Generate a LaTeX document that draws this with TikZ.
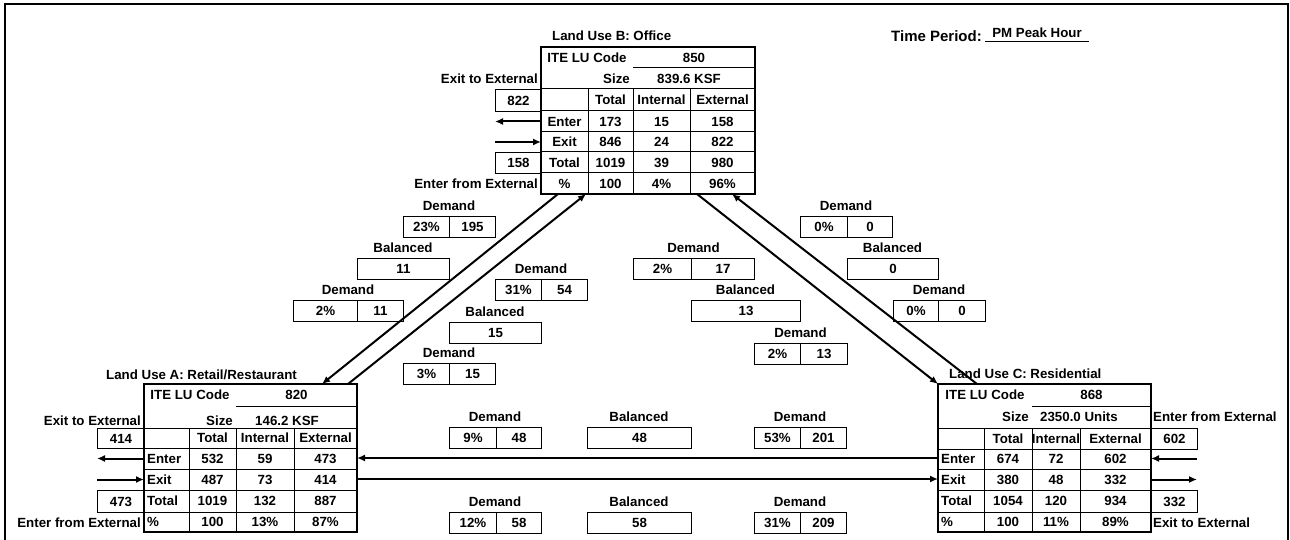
\documentclass[tikz,border=0pt]{standalone}
\usepackage{fontspec}
\setmainfont{Liberation Sans}
\usetikzlibrary{arrows.meta}

\tikzset{
	txt/.style={font=\bfseries\fontsize{13.3}{16}\selectfont,inner sep=0pt,text height=9.5pt,text depth=0pt},
	valcell/.style={txt,draw=black,line width=1pt,minimum height=21pt,anchor=north west},
	tabframe/.style={draw=black,line width=2pt,inner sep=0pt,outer sep=0pt,anchor=north west},
	gridline/.style={black,line width=1pt},
	flow/.style={black,line width=2pt,-{Latex[length=8pt,width=7pt]}},
}

\begin{document}
\begin{tikzpicture}[x=1pt,y=-1pt]
	\useasboundingbox (0,0) rectangle (1290,540);
	\draw[line width=1.5pt] (5,540) -- (5,4) -- (1288,4) -- (1288,540);

	% time period
	\node[txt,font=\bfseries\fontsize{15}{18}\selectfont,text height=10.7pt,anchor=east] (period) at (982,36) {Time Period:};
	\node[txt] (periodval) at (1037,33) {PM Peak Hour};
	\draw[gridline] (985,42) -- (1089,42);

	% land use B
	\node[txt,anchor=west] (B-title) at (552,36) {Land Use B: Office};
	\node[tabframe,minimum width=214pt,minimum height=147pt] (B) at (541,47) {};
	\draw[gridline] (633,68) -- (755,68);
	\foreach \y in {89,111,132,152,173}
		\draw[gridline] (541,\y) -- (755,\y);
	\foreach \x in {588,633,690}
		\draw[gridline] (\x,89) -- (\x,194);
	\node[txt] (B-code) at (587,57.5) {ITE LU Code};
	\node[txt] (B-codeval) at (694,57.5) {850};
	\node[txt,anchor=east] (B-size) at (630,78.5) {Size};
	\node[txt] (B-sizeval) at (689,78.5) {839.6 KSF};
	\foreach \n/\x/\t in {tot/610.5/Total,int/661.5/Internal,ext/722.5/External}
		\node[txt] (B-\n) at (\x,100) {\t};
	\foreach \n/\y/\lab/\va/\vb/\vc in {en/121.5/Enter/173/15/158,ex/142/Exit/846/24/822,tt/162.5/Total/1019/39/980,pc/183.5/\%/100/4\%/96\%}{
		\node[txt] (B-\n-l) at (564.5,\y) {\lab};
		\node[txt] (B-\n-a) at (610.5,\y) {\va};
		\node[txt] (B-\n-b) at (661.5,\y) {\vb};
		\node[txt] (B-\n-c) at (722.5,\y) {\vc};
	}
	\node[txt,anchor=east] (B-xo-t) at (538,79) {Exit to External};
	\node[valcell,minimum width=46pt,minimum height=22pt] (B-xo) at (495,89) {822};
	\node[valcell,minimum width=46pt] (B-xi) at (495,152) {158};
	\node[txt,anchor=east] (B-xi-t) at (538,184) {Enter from External};
	\coordinate (B-out) at (495,121.5);
	\coordinate (B-in) at (495,142);
	\draw[flow] (B.west |- B-out) -- (B-out);
	\draw[flow] (B-in) -- (B.west |- B-in);

	% land use A
	\node[txt,anchor=west] (A-title) at (106,375) {Land Use A: Retail/Restaurant};
	\node[tabframe,minimum width=213pt,minimum height=148pt] (A) at (144,384) {};
	\draw[gridline] (236,406) -- (357,406);
	\foreach \y in {428,448,469,490,512}
		\draw[gridline] (144,\y) -- (357,\y);
	\foreach \x in {189,236,294}
		\draw[gridline] (\x,428) -- (\x,532);
	\node[txt] (A-code) at (190,395) {ITE LU Code};
	\node[txt] (A-codeval) at (296.5,395) {820};
	\node[txt,anchor=east] (A-size) at (233,421) {Size};
	\node[txt] (A-sizeval) at (287,421) {146.2 KSF};
	\foreach \n/\x/\t in {tot/212.5/Total,int/265/Internal,ext/325.5/External}
		\node[txt] (A-\n) at (\x,438) {\t};
	\foreach \n/\y/\lab/\va/\vb/\vc in {en/458.5/Enter/532/59/473,ex/479.5/Exit/487/73/414,tt/501/Total/1019/132/887,pc/522/\%/100/13\%/87\%}{
		\node[txt,anchor=west] (A-\n-l) at (147,\y) {\lab};
		\node[txt] (A-\n-a) at (212.5,\y) {\va};
		\node[txt] (A-\n-b) at (265,\y) {\vb};
		\node[txt] (A-\n-c) at (325.5,\y) {\vc};
	}
	\node[txt,anchor=east] (A-xo-t) at (141,421) {Exit to External};
	\node[valcell,minimum width=47pt,minimum height=20pt] (A-xo) at (97,428) {414};
	\node[valcell,minimum width=47pt,minimum height=22pt] (A-xi) at (97,490) {473};
	\node[txt,anchor=east] (A-xi-t) at (141,523) {Enter from External};
	\coordinate (A-out) at (97,458.5);
	\coordinate (A-in) at (97,479.5);
	\draw[flow] (A.west |- A-out) -- (A-out);
	\draw[flow] (A-in) -- (A.west |- A-in);

	% land use C
	\node[txt,anchor=west] (C-title) at (949,374) {Land Use C: Residential};
	\node[tabframe,minimum width=213pt,minimum height=148pt] (C) at (938,384) {};
	\draw[gridline] (1032,406) -- (1151,406);
	\foreach \y in {428,449,469,490,512}
		\draw[gridline] (938,\y) -- (1151,\y);
	\foreach \x in {984,1032,1080}
		\draw[gridline] (\x,428) -- (\x,532);
	\node[txt] (C-code) at (985,395) {ITE LU Code};
	\node[txt] (C-codeval) at (1091.5,395) {868};
	\node[txt,anchor=east] (C-size) at (1029,417) {Size};
	\node[txt] (C-sizeval) at (1079,417) {2350.0 Units};
	\foreach \n/\x/\t in {tot/1008/Total,int/1056/Internal,ext/1115.5/External}
		\node[txt] (C-\n) at (\x,438.5) {\t};
	\foreach \n/\y/\lab/\va/\vb/\vc in {en/458.5/Enter/674/72/602,ex/479.5/Exit/380/48/332,tt/501/Total/1054/120/934,pc/522/\%/100/11\%/89\%}{
		\node[txt,anchor=west] (C-\n-l) at (941,\y) {\lab};
		\node[txt] (C-\n-a) at (1008,\y) {\va};
		\node[txt] (C-\n-b) at (1056,\y) {\vb};
		\node[txt] (C-\n-c) at (1115.5,\y) {\vc};
	}
	\node[txt,anchor=west] (C-xi-t) at (1153,417) {Enter from External};
	\node[valcell,minimum width=46pt] (C-xi) at (1151,428) {602};
	\node[valcell,minimum width=46pt,minimum height=22pt] (C-xo) at (1151,490) {332};
	\node[txt,anchor=west] (C-xo-t) at (1153,523) {Exit to External};
	\coordinate (C-in) at (1197,458.5);
	\coordinate (C-out) at (1197,479.5);
	\draw[flow] (C-in) -- (C.east |- C-in);
	\draw[flow] (C.east |- C-out) -- (C-out);

	% demand and balanced boxes
	\foreach \n/\xa/\xb/\xc/\yt/\p/\v in {dBA1/403/449/495/216/23/195,dBA2/293/357/403/300/2/11,dAB1/495/541/587/279/31/54,dAB2/403/449/495/363/3/15,dBC1/633/691/754/258/2/17,dBC2/754/800/847/343/2/13,dCB1/800/847/892/216/0/0,dCB2/893/938/985/300/0/0,dAC1/449/496/541/427/9/48,dCA1/754/800/846/427/53/201,dAC2/449/496/541/512/12/58,dCA2/754/800/846/512/31/209}{
		\pgfmathsetmacro\wa{\xb-\xa}
		\pgfmathsetmacro\wb{\xc-\xb}
		\node[txt] (\n-t) at ({(\xa+\xc)/2},{\yt-10.5}) {Demand};
		\node[valcell,minimum width=\wa pt] (\n-p) at (\xa,\yt) {\p\%};
		\node[valcell,minimum width=\wb pt] (\n-v) at (\xb,\yt) {\v};
	}
	\foreach \n/\xa/\xc/\yt/\v in {bAB1/357/449/258/11,bAB2/449/541/322/15,bBC1/691/800/300/13,bBC2/847/938/258/0,bAC1/587/691/427/48,bAC2/587/691/512/58}{
		\pgfmathsetmacro\wa{\xc-\xa}
		\node[txt] (\n-t) at ({(\xa+\xc)/2},{\yt-10.5}) {Balanced};
		\node[valcell,minimum width=\wa pt] (\n-v) at (\xa,\yt) {\v};
	}

	% flows between land uses
	\draw[flow] ([xshift=17pt]B.south west) -- ([xshift=-35pt]A.north east);
	\draw[flow] ([xshift=-9pt]A.north east) -- ([xshift=45pt]B.south west);
	\draw[flow] ([xshift=-58pt]B.south east) -- (C.north west);
	\draw[flow] ([xshift=39pt]C.north west) -- ([xshift=-23pt]B.south east);
	\draw[flow,line width=2.4pt] (C.west) -- (A.east);
	\draw[flow,line width=2.4pt] ([yshift=-21pt]A.east) -- ([yshift=-21pt]C.west);
\end{tikzpicture}
\end{document}
